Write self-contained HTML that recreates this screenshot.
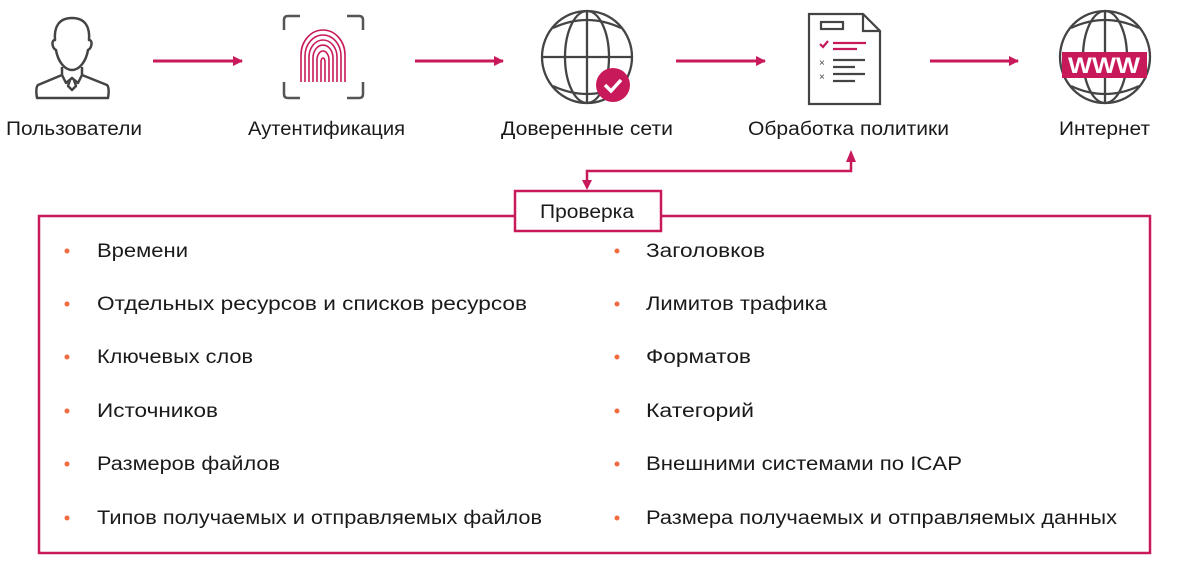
<!DOCTYPE html>
<html><head><meta charset="utf-8"><style>
html,body{margin:0;padding:0;background:#fff;width:1179px;height:564px;overflow:hidden}
svg{display:block}
text{font-family:"Liberation Sans","DejaVu Sans",sans-serif;fill:#1a1a1a}
</style></head><body>
<svg width="1179" height="564" viewBox="0 0 1179 564" xmlns="http://www.w3.org/2000/svg">
<defs>
<marker id="ah" markerWidth="10" markerHeight="10" refX="9" refY="5" orient="auto" markerUnits="userSpaceOnUse">
<path d="M0,0 L10,5 L0,10 Z" fill="#c8195a"/></marker>
</defs>
<!-- arrows -->
<g stroke="#c8195a" stroke-width="3" fill="none">
<line x1="153" y1="61" x2="242" y2="61" marker-end="url(#ah)"/>
<line x1="415" y1="61" x2="503" y2="61" marker-end="url(#ah)"/>
<line x1="676" y1="61" x2="765" y2="61" marker-end="url(#ah)"/>
<line x1="930" y1="61" x2="1018" y2="61" marker-end="url(#ah)"/>
</g>
<g stroke="#c8195a" stroke-width="2.5" fill="none">
<path d="M851,160 L851,171 L587,171 L587,182"/>
</g>
<path d="M846,162 L851,150 L856,162 Z" fill="#c8195a"/>
<path d="M582,180 L587,190 L592,180 Z" fill="#c8195a"/>
<!-- person -->
<g stroke="#444" stroke-width="2.5" fill="none" stroke-linejoin="round">
<path d="M72,18 C58,18 54,28 55,40 C51,40 52,48 56,50 C58,62 65,70 72,70 C79,70 86,62 88,50 C92,48 93,40 89,40 C90,28 86,18 72,18 Z"/>
<path d="M62,67 L62,75 L38,85 C36,87 36,92 37,98 L108,98 C109,92 109,87 107,85 L82,75 L82,67"/>
<path d="M62,75 L66,83 L72,78 L78,83 L82,75"/>
<path d="M70,80 L68,86 L72,90 L76,86 L74,80"/>
</g>
<!-- fingerprint box -->
<g stroke="#555" stroke-width="2.5" fill="none">
<path d="M284,30 L284,20 Q284,16 288,16 L300,16"/>
<path d="M347,16 L359,16 Q363,16 363,20 L363,30"/>
<path d="M284,82 L284,94 Q284,98 288,98 L300,98"/>
<path d="M347,98 L359,98 Q363,98 363,94 L363,82"/>
</g>
<g stroke="#c8195a" stroke-width="1.6" fill="none">
<path d="M301,82 L301,55 A22,25 0 0 1 345,55 L345,82"/>
<path d="M305,82 L305,56 A18,21 0 0 1 341,56 L341,82"/>
<path d="M309,82 L309,57 A14,17 0 0 1 337,57 L337,82"/>
<path d="M313,82 L313,58 A10,13 0 0 1 333,58 L333,82"/>
<path d="M317,82 L317,60 A6,9 0 0 1 329,60 L329,82"/>
<path d="M321,82 L321,62 A2,4 0 0 1 325,62 L325,82"/>
</g>
<!-- globe 1 -->
<g stroke="#444" stroke-width="2.3" fill="none">
<ellipse cx="587" cy="57" rx="45" ry="46"/>
<ellipse cx="587" cy="57" rx="22" ry="46"/>
<line x1="587" y1="11" x2="587" y2="103"/>
<line x1="542" y1="57" x2="632" y2="57"/>
<path d="M553,28 Q587,12 621,28"/><path d="M553,86 Q587,102 621,86"/>
</g>
<circle cx="613" cy="85" r="17" fill="#c8195a"/>
<path d="M605,85 L611,91 L621,80" stroke="#fff" stroke-width="3.5" fill="none"/>
<!-- document -->
<g stroke="#444" stroke-width="2.2" fill="none">
<path d="M809,14 L863,14 L880,31 L880,104 L809,104 Z"/>
<path d="M863,14 L863,31 L880,31"/>
<rect x="821" y="22" width="22" height="7"/>
<line x1="833" y1="60" x2="865" y2="60"/><line x1="833" y1="67" x2="855" y2="67"/>
<line x1="833" y1="74" x2="865" y2="74"/><line x1="833" y1="81" x2="855" y2="81"/>
</g>
<g stroke="#c8195a" stroke-width="2.2" fill="none">
<line x1="833" y1="43" x2="866" y2="43"/><line x1="833" y1="49" x2="857" y2="49"/>
<path d="M820,44 L823,47 L828,41"/>
</g>
<text x="819" y="66" font-size="10" style="fill:#444">×</text>
<text x="819" y="80" font-size="10" style="fill:#444">×</text>
<!-- globe 2 -->
<g stroke="#444" stroke-width="2.3" fill="none">
<ellipse cx="1105" cy="57" rx="45" ry="46"/>
<ellipse cx="1105" cy="57" rx="22" ry="46"/>
<line x1="1105" y1="11" x2="1105" y2="103"/>
<path d="M1071,28 Q1105,12 1139,28"/><path d="M1071,86 Q1105,102 1139,86"/>
</g>
<rect x="1062" y="52" width="85" height="26" fill="#c8195a"/>
<text x="1104" y="73" font-size="22" font-weight="bold" text-anchor="middle" style="fill:#fff" textLength="72" lengthAdjust="spacingAndGlyphs">WWW</text>
<!-- labels -->
<g font-size="19">
<text x="6" y="135" textLength="136" lengthAdjust="spacingAndGlyphs">Пользователи</text>
<text x="248" y="135" textLength="157" lengthAdjust="spacingAndGlyphs">Аутентификация</text>
<text x="501" y="135" textLength="172" lengthAdjust="spacingAndGlyphs">Доверенные сети</text>
<text x="748" y="135" textLength="201" lengthAdjust="spacingAndGlyphs">Обработка политики</text>
<text x="1059" y="135" textLength="91" lengthAdjust="spacingAndGlyphs">Интернет</text>
</g>
<!-- big box -->
<rect x="39" y="216" width="1111" height="337" fill="none" stroke="#c8195a" stroke-width="2.5"/>
<rect x="515" y="191" width="146" height="40" fill="#fff" stroke="#c8195a" stroke-width="2.5"/>
<text x="540" y="218" font-size="19" textLength="94" lengthAdjust="spacingAndGlyphs">Проверка</text>
<g fill="#f26a3f">
<circle cx="67" cy="251" r="2.5"/><circle cx="67" cy="304" r="2.5"/><circle cx="67" cy="357" r="2.5"/>
<circle cx="67" cy="411" r="2.5"/><circle cx="67" cy="464" r="2.5"/><circle cx="67" cy="518" r="2.5"/>
<circle cx="617" cy="251" r="2.5"/><circle cx="617" cy="304" r="2.5"/><circle cx="617" cy="357" r="2.5"/>
<circle cx="617" cy="411" r="2.5"/><circle cx="617" cy="464" r="2.5"/><circle cx="617" cy="518" r="2.5"/>
</g>
<g font-size="19">
<text x="97" y="257" textLength="91" lengthAdjust="spacingAndGlyphs">Времени</text>
<text x="97" y="310" textLength="430" lengthAdjust="spacingAndGlyphs">Отдельных ресурсов и списков ресурсов</text>
<text x="97" y="363" textLength="156" lengthAdjust="spacingAndGlyphs">Ключевых слов</text>
<text x="97" y="417" textLength="121" lengthAdjust="spacingAndGlyphs">Источников</text>
<text x="97" y="470" textLength="183" lengthAdjust="spacingAndGlyphs">Размеров файлов</text>
<text x="97" y="524" textLength="445" lengthAdjust="spacingAndGlyphs">Типов получаемых и отправляемых файлов</text>
<text x="646" y="257" textLength="119" lengthAdjust="spacingAndGlyphs">Заголовков</text>
<text x="646" y="310" textLength="181" lengthAdjust="spacingAndGlyphs">Лимитов трафика</text>
<text x="646" y="363" textLength="105" lengthAdjust="spacingAndGlyphs">Форматов</text>
<text x="646" y="417" textLength="108" lengthAdjust="spacingAndGlyphs">Категорий</text>
<text x="646" y="470" textLength="316" lengthAdjust="spacingAndGlyphs">Внешними системами по ICAP</text>
<text x="646" y="524" textLength="471" lengthAdjust="spacingAndGlyphs">Размера получаемых и отправляемых данных</text>
</g>
</svg>
</body></html>
